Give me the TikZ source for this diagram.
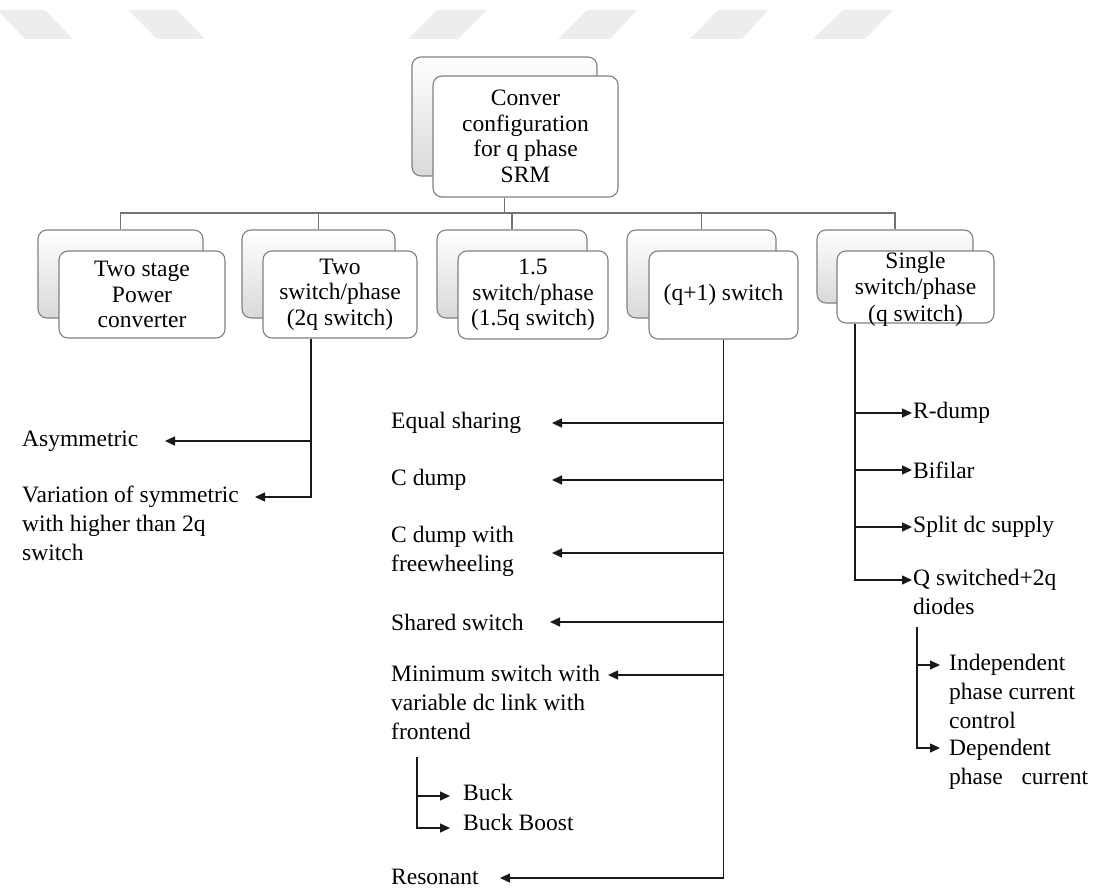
\documentclass[tikz,border=0pt]{standalone}
\usepackage{fontspec}
\setmainfont{Liberation Serif}
\usetikzlibrary{arrows.meta}

\begin{document}
\begin{tikzpicture}[x=1pt,y=-1pt,
  every node/.style={font=\fontsize{23.5}{29}\selectfont, inner sep=0pt},
  backbox/.style={draw=black!50, line width=1.1pt, rounded corners=9pt, top color=white, bottom color=black!15},
  frontbox/.style={draw=black!50, line width=1.1pt, rounded corners=9pt, fill=white, align=center, font=\fontsize{23.5}{25.5}\selectfont},
  boxtext/.style={align=center, font=\fontsize{23.5}{26.5}\selectfont},
  bus/.style={draw=black!55, line width=1.4pt},
  arr/.style={draw=black!90, line width=1.4pt, -{Triangle[length=10pt,width=9pt]}},
  lbl/.style={anchor=west, align=left},
  lblm/.style={anchor=north west, align=left},
  stripe/.style={fill=black!7, draw=none}
]
\useasboundingbox (0,0) rectangle (1099,888);

% light stripes along the top edge
\fill[stripe] (-3,10) -- (45,10) -- (73,39) -- (25,39) -- cycle;
\fill[stripe] (128,10) -- (177,10) -- (205,39) -- (157,39) -- cycle;
\fill[stripe] (437,10) -- (487,10) -- (458,39) -- (408,39) -- cycle;
\fill[stripe] (587,10) -- (637,10) -- (610,39) -- (558,39) -- cycle;
\fill[stripe] (718,10) -- (768,10) -- (742,39) -- (690,39) -- cycle;
\fill[stripe] (843,10) -- (893,10) -- (865,39) -- (813,39) -- cycle;

% root box
\node[backbox, minimum width=185pt, minimum height=119pt] (rk) at (504.5,116.5) {};
\node[frontbox, minimum width=185pt, minimum height=121pt] (root) at (525.5,136.5)
  {Conver\\configuration\\for q phase\\SRM};

% second level boxes
\node[backbox, minimum width=165pt, minimum height=88pt] (k1) at (120.5,274) {};
\node[frontbox, minimum width=166pt, minimum height=87pt] (b1) at (142,294.5)
  {Two stage\\Power\\converter};
\node[backbox, minimum width=153pt, minimum height=88pt] (k2) at (318.5,274) {};
\node[frontbox, minimum width=154pt, minimum height=87pt] (b2) at (340,294.5)
  {Two\\switch/phase\\(2q switch)};
\node[backbox, minimum width=150pt, minimum height=88pt] (k3) at (512,274) {};
\node[frontbox, minimum width=150pt, minimum height=88pt] (b3) at (533,295)
  {1.5\\switch/phase\\(1.5q switch)};
\node[backbox, minimum width=149pt, minimum height=88pt] (k4) at (701.5,274) {};
\node[frontbox, minimum width=149pt, minimum height=88pt] (b4) at (723.5,295)
  {(q+1) switch};
\node[backbox, minimum width=156pt, minimum height=73pt] (k5) at (895,266.5) {};
\node[frontbox, minimum width=157pt, minimum height=72pt] (b5) at (915.5,287) {};
\node[boxtext] (b5t) at (915.5,289) {Single\\switch/phase\\(q switch)};

% bus between the root and the second level
\coordinate (busy) at (0,213);
\draw[bus] (rk.south |- root.south) -- (rk.south |- busy);
\draw[bus] (k1.north) -- (k1.north |- busy) -- (k5.north |- busy) -- (k5.north);
\draw[bus] (k2.north) -- (k2.north |- busy);
\draw[bus] (k3.north) -- (k3.north |- busy);
\draw[bus] (k4.north) -- (k4.north |- busy);

% two switch/phase branch
\coordinate (x2) at (311,0);
\coordinate (e21) at (165,441);
\coordinate (e22) at (255,497);
\node[lbl] (asym) at (22,441) {Asymmetric};
\node[lblm] (vsym) at (22,486) {Variation of symmetric\\with higher than 2q\\switch};
\draw[arr] (b2.south -| x2) |- (e21);
\draw[arr] (b2.south -| x2) |- (e22);

% (q+1) switch branch
\coordinate (m1) at (552,423);
\coordinate (m2) at (552,480);
\coordinate (m3) at (552,553);
\coordinate (m4) at (550,622);
\coordinate (m5) at (608,675);
\coordinate (m6) at (500,878);
\node[lbl] (eq) at (391,423) {Equal sharing};
\node[lbl] (cd) at (391,480) {C dump};
\node[lblm] (cdf) at (391,526) {C dump with\\freewheeling};
\node[lbl] (sh) at (391,622) {Shared switch};
\node[lblm] (mn) at (391,665) {Minimum switch with\\variable dc link with\\frontend};
\node[lbl] (res) at (391,877) {Resonant};
\draw[arr] (b4.south) |- (m1);
\draw[arr] (b4.south) |- (m2);
\draw[arr] (b4.south) |- (m3);
\draw[arr] (b4.south) |- (m4);
\draw[arr] (b4.south) |- (m5);
\draw[arr] (b4.south) |- (m6);

% front-end sub branch
\coordinate (s0) at (417,757);
\coordinate (s1) at (450,796);
\coordinate (s2) at (450,828);
\node[lbl] (buck) at (463,792) {Buck};
\node[lbl] (bb) at (463,822) {Buck Boost};
\draw[arr] (s0) |- (s1);
\draw[arr] (s0) |- (s2);

% single switch/phase branch
\coordinate (x5) at (855,0);
\coordinate (r1) at (912,413);
\coordinate (r2) at (912,470);
\coordinate (r3) at (912,527);
\coordinate (r4) at (912,580);
\node[lbl] (rd) at (913,413) {R-dump};
\node[lbl] (bf) at (913,470) {Bifilar};
\node[lbl] (sp) at (913,527) {Split dc supply};
\node[lblm] (qs) at (913,569) {Q switched+2q\\diodes};
\draw[arr] (b5.south -| x5) |- (r1);
\draw[arr] (b5.south -| x5) |- (r2);
\draw[arr] (b5.south -| x5) |- (r3);
\draw[arr] (b5.south -| x5) |- (r4);

% diode sub branch
\coordinate (d0) at (917,627);
\coordinate (d1) at (940,665);
\coordinate (d2) at (940,748);
\node[lblm] (ind) at (949,654) {Independent\\phase current\\control};
\node[lblm] (dep) at (949,739) {Dependent\\phase\hspace{0.8em}current};
\draw[arr] (d0) |- (d1);
\draw[arr] (d0) |- (d2);
\end{tikzpicture}
\end{document}
